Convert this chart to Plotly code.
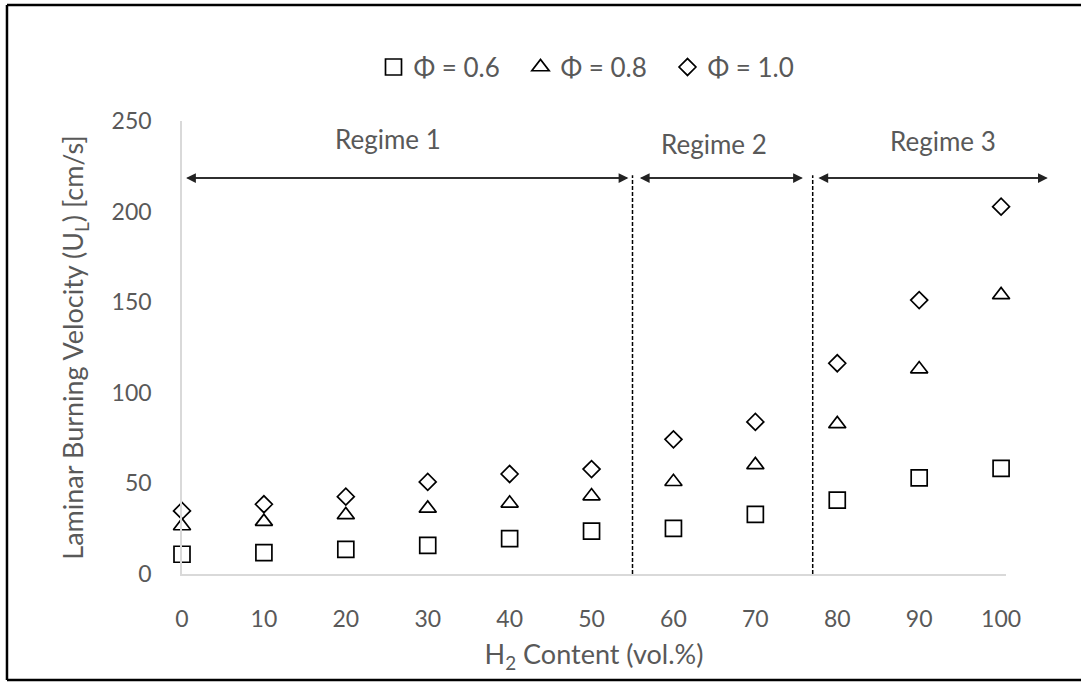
import plotly.graph_objects as go

h2_content = [0, 10, 20, 30, 40, 50, 60, 70, 80, 90, 100]
phi_06 = [10.9, 11.8, 13.6, 15.8, 19.5, 23.7, 25.2, 32.9, 40.8, 53.1, 58.3]
phi_08 = [26.5, 28.9, 32.6, 36.2, 39.0, 43.0, 50.9, 60.2, 82.8, 113.1, 154.0]
phi_10 = [34.8, 38.5, 42.7, 50.8, 55.2, 57.9, 74.3, 83.9, 116.3, 151.2, 202.7]
series_names = ["Φ = 0.6", "Φ = 0.8", "Φ = 1.0"]

regime_labels = ["Regime 1", "Regime 2", "Regime 3"]
regime_starts = [0.5, 55.9, 77.7]
regime_ends = [54.5, 75.8, 105.7]
regime_label_x = [25.2, 65.0, 92.9]
regime_label_y = [240, 237.5, 239]
regime_arrow_y = 218.5
boundaries = [55, 77]
boundary_top = 220

x_ticks = [0, 10, 20, 30, 40, 50, 60, 70, 80, 90, 100]
y_ticks = [0, 50, 100, 150, 200, 250]

FONT = "Lato"
GREY = "#595959"

fig = go.Figure()
symbols = ["square-open", "triangle-up-open", "diamond-open"]
sizes = [16, 15, 13]
for name, ys, sym, sz in zip(series_names, [phi_06, phi_08, phi_10], symbols, sizes):
    fig.add_trace(go.Scatter(
        x=h2_content, y=ys, mode="markers", name=name,
        marker=dict(symbol=sym, size=sz, color="black", line=dict(color="black", width=1.7)),
        cliponaxis=False,
    ))

# regime boundaries
for b in boundaries:
    fig.add_shape(type="line", xref="x", yref="y", x0=b, x1=b, y0=0, y1=boundary_top,
                  line=dict(color="black", width=1.5, dash="4px,2px"))

# regime arrows: two full-length opposing arrows give a double-headed arrow
for s, e in zip(regime_starts, regime_ends):
    for head, tail in ((s, e), (e, s)):
        fig.add_annotation(x=head, y=regime_arrow_y, ax=tail, ay=regime_arrow_y,
                           xref="x", yref="y", axref="x", ayref="y",
                           showarrow=True, arrowhead=2, arrowsize=1.3, arrowwidth=1.5,
                           arrowcolor="#222222", text="")

for lbl, lx, ly in zip(regime_labels, regime_label_x, regime_label_y):
    fig.add_annotation(x=lx, y=ly, xref="x", yref="y", text=lbl, showarrow=False,
                       font=dict(family=FONT, size=26, color=GREY))

# outer frame: left, top and bottom edges (right edge lies outside the picture)
FL, FR, FB, FT = -0.2124, 1.2, -0.234, 1.2561
frame_line = dict(color="black", width=2.5)
fig.add_shape(type="line", xref="paper", yref="paper", x0=FL, x1=FL, y0=FB, y1=FT, line=frame_line)
fig.add_shape(type="line", xref="paper", yref="paper", x0=FL, x1=FR, y0=FT, y1=FT, line=frame_line)
fig.add_shape(type="line", xref="paper", yref="paper", x0=FL, x1=FR, y0=FB, y1=FB, line=frame_line)

fig.update_layout(
    width=1081, height=682,
    margin=dict(l=182, r=75, t=121, b=108),
    paper_bgcolor="white", plot_bgcolor="white",
    font=dict(family=FONT, size=23, color=GREY),
    showlegend=True,
    legend=dict(orientation="h", x=0.5, xanchor="center", y=1.119, yanchor="middle",
                font=dict(family=FONT, size=26, color=GREY), itemwidth=30,
                entrywidth=102, entrywidthmode="pixels",
                bgcolor="rgba(0,0,0,0)"),
    xaxis=dict(range=[0, 100.6], tickvals=x_ticks, showgrid=False, zeroline=False,
               showline=True, linecolor="#d9d9d9", linewidth=1.5, ticks="",
               ticklabelstandoff=24, tickfont=dict(family=FONT, size=23, color=GREY),
               title=dict(text="H<sub>2</sub> Content (vol.%)", standoff=14,
                          font=dict(family=FONT, size=27, color=GREY))),
    yaxis=dict(range=[0, 250], tickvals=y_ticks, showgrid=False, zeroline=False,
               showline=True, linecolor="#d9d9d9", linewidth=1.5, ticks="",
               ticklabelstandoff=24, tickfont=dict(family=FONT, size=23, color=GREY),
               title=dict(text="Laminar Burning Velocity (U<sub>L</sub>) [cm/s]", standoff=20,
                          font=dict(family=FONT, size=27, color=GREY))),
)

fig.write_html("out.html")
